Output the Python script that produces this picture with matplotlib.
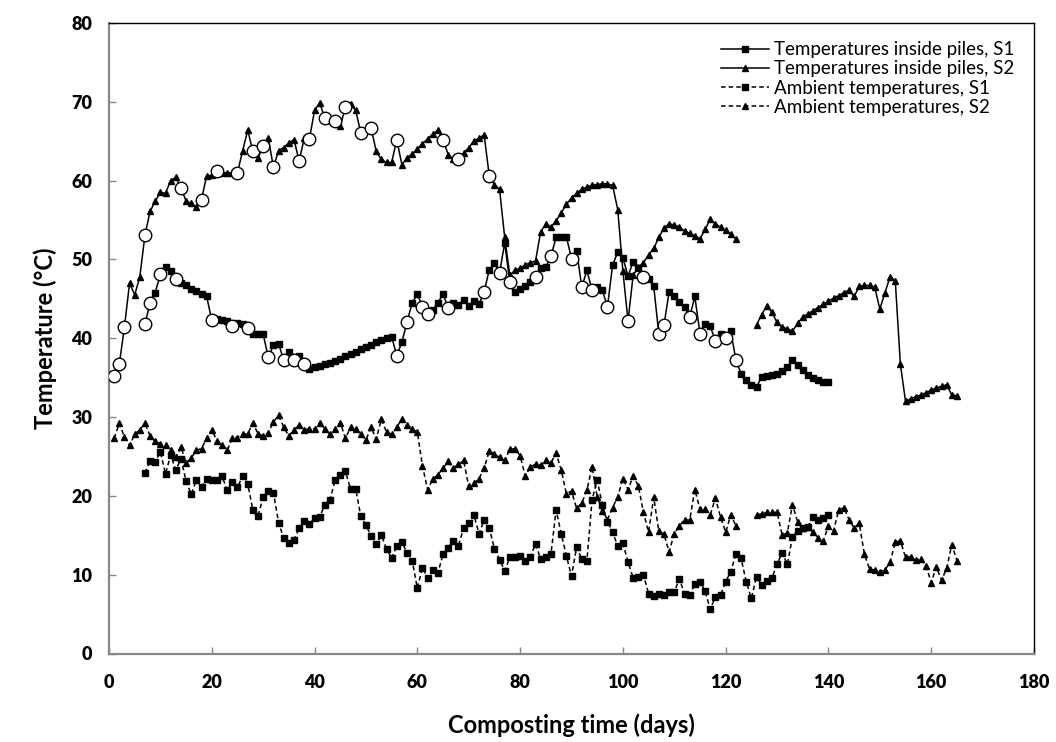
import matplotlib.pyplot as plt
import numpy as np

# pile temperatures, S1 (squares) - days 7..140
s1_days = list(range(7, 141))
s1_temp = [41.8, 44.5, 45.8, 48.1, 49.0, 48.5, 47.5, 47.0, 46.7, 46.3,
           46.0, 45.6, 45.3, 42.3, 42.5, 42.3, 42.2, 41.6, 41.9, 41.8,
           41.3, 40.5, 40.5, 40.5, 37.6, 39.1, 39.3, 37.2, 38.3, 37.2,
           37.7, 36.7, 36.1, 36.3, 36.5, 36.7, 36.9, 37.1, 37.4, 37.7,
           38.0, 38.3, 38.6, 38.9, 39.2, 39.5, 39.8, 40.0, 40.2, 37.8,
           39.5, 42.1, 44.5, 45.6, 44.0, 43.1, 43.6, 44.5, 45.6, 43.9,
           44.5, 44.2, 44.9, 44.1, 44.7, 44.3, 45.9, 48.7, 49.5, 48.3,
           52.1, 47.1, 45.9, 46.2, 46.6, 47.1, 47.8, 48.9, 49.0, 50.4,
           52.8, 52.9, 52.9, 50.1, 51.1, 46.5, 48.6, 46.1, 46.5, 46.1,
           44.0, 49.3, 50.9, 50.2, 47.9, 49.7, 48.9, 47.8, 47.5, 46.6,
           40.5, 41.7, 45.9, 45.3, 44.6, 44.0, 42.7, 45.3, 40.6, 41.8,
           41.5, 39.7, 40.6, 40.0, 40.9, 37.2, 35.5, 34.7, 34.1, 33.8,
           35.1, 35.2, 35.3, 35.5, 35.9, 36.3, 37.3, 36.6, 36.0, 35.4,
           35.0, 34.7, 34.5, 34.5]
s1_turns = [7, 8, 10, 13, 20, 24, 27, 31, 34, 36, 38, 56, 58, 61, 62, 66,
            73, 76, 78, 83, 86, 90, 92, 94, 97, 104, 107, 108, 113, 115,
            118, 120, 122]

# pile temperatures, S2 (triangles) - days 1..122, 126..165
s2_days = list(range(1, 123)) + list(range(126, 166))
s2_temp = [35.2, 36.7, 41.4, 47.0, 45.5, 47.8, 53.1, 56.1, 57.4, 58.5,
           58.4, 60.0, 60.4, 59.1, 57.4, 57.1, 56.6, 57.6, 60.6, 60.7,
           61.2, 61.0, 61.0, 61.0, 61.0, 63.8, 66.4, 63.7, 62.9, 64.4,
           65.4, 61.7, 63.8, 64.2, 64.8, 65.2, 62.5, 65.4, 65.3, 68.9,
           69.9, 67.9, 67.7, 67.6, 66.9, 69.3, 69.7, 68.9, 66.1, 66.4,
           66.7, 63.7, 62.7, 62.3, 62.3, 65.2, 62.0, 62.9, 63.4, 64.0,
           64.7, 65.3, 65.9, 66.4, 65.2, 63.3, 62.7, 62.8, 63.5, 64.2,
           65.0, 65.4, 65.8, 60.6, 59.5, 58.9, 52.8, 48.0, 48.6, 48.9,
           49.3, 49.6, 49.8, 53.5, 54.5, 54.1, 54.9, 55.9, 57.0, 57.8,
           58.4, 58.9, 59.2, 59.4, 59.5, 59.6, 59.6, 59.4, 56.3, 48.5,
           42.2, 48.0, 49.0, 49.6, 50.6, 51.4, 52.8, 54.0, 54.5, 54.4,
           54.1, 53.6, 53.3, 53.0, 52.6, 53.8, 55.1, 54.5, 54.1, 53.7,
           53.2, 52.6,
           41.7, 43.0, 44.1, 43.3, 42.0, 41.4, 41.2, 40.9, 41.9, 42.7,
           43.1, 43.5, 43.9, 44.3, 44.7, 45.1, 45.4, 45.8, 46.1, 45.3,
           46.6, 46.7, 46.7, 46.5, 43.7, 45.8, 47.8, 47.3, 36.7, 32.0,
           32.3, 32.6, 32.8, 33.1, 33.4, 33.7, 33.9, 34.1, 32.8, 32.7]
s2_turns = [1, 2, 3, 7, 14, 18, 21, 25, 28, 30, 32, 37, 39, 42, 44, 46, 49,
            51, 56, 65, 68, 74, 101]

# ambient temperatures, S1 - days 7..140
amb1_days = list(range(7, 141))
amb1_temp = [22.9, 24.4, 24.3, 25.6, 22.8, 25.2, 23.3, 24.7, 21.9, 20.2,
             22.0, 21.1, 22.2, 22.0, 22.0, 22.5, 20.7, 21.7, 21.1, 22.5,
             21.5, 18.2, 17.5, 19.8, 20.6, 20.4, 16.6, 14.6, 14.0, 14.4,
             15.9, 16.8, 16.4, 17.2, 17.3, 18.9, 19.5, 22.0, 22.6, 23.1,
             20.9, 20.9, 17.4, 16.3, 14.9, 13.9, 15.0, 13.3, 12.1, 13.6,
             14.1, 12.8, 11.8, 8.3, 10.9, 9.6, 10.6, 10.2, 12.6, 13.4,
             14.3, 13.7, 15.9, 16.5, 17.6, 15.2, 16.9, 15.9, 13.3, 11.9,
             10.5, 12.2, 12.2, 12.4, 11.8, 12.3, 13.9, 12.0, 12.2, 12.6,
             18.2, 15.2, 12.4, 9.8, 13.5, 12.0, 11.8, 19.5, 22.0, 18.9,
             16.7, 15.4, 13.6, 14.0, 11.6, 9.6, 9.7, 10.0, 7.6, 7.3,
             7.6, 7.4, 7.8, 7.8, 9.5, 7.5, 7.4, 8.8, 9.1, 7.9,
             5.6, 7.2, 7.4, 9.1, 10.4, 12.6, 12.1, 9.1, 7.0, 9.7,
             8.7, 9.2, 9.6, 11.3, 12.8, 11.3, 14.8, 15.6, 15.9, 16.1,
             17.3, 16.9, 17.2, 17.6]

# ambient temperatures, S2 - days 1..122, 126..165
amb2_days = list(range(1, 123)) + list(range(126, 166))
amb2_temp = [27.3, 29.2, 27.5, 26.4, 27.8, 28.4, 29.2, 27.6, 26.9, 26.6,
             26.5, 25.8, 24.9, 26.2, 24.2, 24.8, 25.8, 26.0, 27.3, 28.4,
             27.0, 26.5, 25.8, 27.3, 27.4, 27.8, 27.9, 29.2, 27.9, 27.6,
             28.0, 29.4, 30.2, 28.7, 27.6, 28.4, 29.0, 28.4, 28.5, 28.5,
             29.3, 28.5, 27.8, 28.5, 29.3, 27.3, 28.7, 28.5, 27.8, 27.1,
             28.7, 27.2, 29.7, 28.1, 27.8, 28.7, 29.8, 29.0, 28.5, 28.1,
             23.8, 20.8, 22.1, 22.7, 23.5, 24.4, 23.5, 24.0, 24.5, 21.2,
             21.6, 22.2, 23.5, 25.7, 25.3, 24.9, 24.5, 25.9, 26.0, 25.1,
             22.5, 23.7, 24.0, 23.9, 24.5, 24.2, 25.4, 23.3, 20.3, 20.6,
             18.4, 19.1, 20.7, 23.7, 19.9, 18.1, 17.0, 18.5, 19.9, 22.2,
             20.8, 22.5, 21.3, 17.9, 15.4, 19.8, 15.5, 15.1, 12.9, 15.2,
             16.2, 17.0, 16.9, 20.8, 18.3, 18.3, 17.6, 19.7, 17.3, 15.4,
             17.6, 16.2,
             17.6, 17.7, 17.9, 17.9, 17.9, 15.0, 15.3, 18.9, 16.7, 15.9,
             16.1, 15.4, 14.7, 14.3, 16.2, 15.6, 18.2, 18.5, 17.0, 15.9,
             16.5, 12.6, 10.7, 10.6, 10.4, 10.6, 11.6, 14.1, 14.3, 12.2,
             12.3, 11.9, 12.0, 11.1, 9.0, 11.0, 9.3, 10.8, 13.8, 11.8]


def split_runs(days, vals):
    # break the line where days are missing
    days = np.array(days)
    vals = np.array(vals)
    cuts = np.where(np.diff(days) > 1)[0] + 1
    return list(zip(np.split(days, cuts), np.split(vals, cuts)))


fig = plt.figure(figsize=(10.56, 7.42), dpi=100)
ax = fig.add_axes([109 / 1056, 1 - 653.5 / 742, (1034 - 109) / 1056, (653.5 - 23) / 742])

series = [
    (s1_days, s1_temp, 's', 4.2, '-', 'Temperatures inside piles, S1'),
    (s2_days, s2_temp, '^', 5.0, '-', 'Temperatures inside piles, S2'),
    (amb1_days, amb1_temp, 's', 4.2, '--', 'Ambient temperatures, S1'),
    (amb2_days, amb2_temp, '^', 5.0, '--', 'Ambient temperatures, S2'),
]
handles = []
for d, v, m, ms, ls, lab in series:
    for i, (dd, vv) in enumerate(split_runs(d, v)):
        h, = ax.plot(dd, vv, color='black', lw=1.1, ls=ls, marker=m, ms=ms,
                     mfc='black', mec='black', dashes=(3, 2) if ls == '--' else (None, None),
                     label=lab if i == 0 else None, zorder=3)
        if i == 0:
            handles.append(h)

# turning days marked with open circles
for d, v, turns in [(s1_days, s1_temp, s1_turns), (s2_days, s2_temp, s2_turns)]:
    lookup = dict(zip(d, v))
    ax.plot(turns, [lookup[t] for t in turns], ls='none', marker='o', ms=9,
            mfc='white', mec='black', mew=1.0, zorder=4)

ax.set_xlim(0, 180)
ax.set_ylim(0, 80)
ax.set_xticks(range(0, 181, 20))
ax.set_yticks(range(0, 81, 10))
ax.tick_params(direction='in', length=5, width=1, color='#888888')
ax.tick_params(axis='x', pad=15)
ax.tick_params(axis='y', pad=12)
for lbl in ax.get_xticklabels() + ax.get_yticklabels():
    lbl.set_fontweight('heavy')
    lbl.set_fontsize(13)
    lbl.set_family('Lato')

for side in ['left', 'bottom']:
    ax.spines[side].set_color('#888888')
    ax.spines[side].set_linewidth(1.6)
for side in ['top', 'right']:
    ax.spines[side].set_color('black')
    ax.spines[side].set_linewidth(1.0)

ax.set_xlabel('Composting time (days)', fontsize=17, fontweight='bold', family='Lato', labelpad=16)
ax.set_ylabel('Temperature (°C)', fontsize=17, fontweight='bold', family='Lato', labelpad=10)

ax.legend(handles=handles, loc='upper right', bbox_to_anchor=(0.995, 0.995), frameon=False,
          prop={'family': 'Lato', 'size': 13.5}, handlelength=2.6, handletextpad=0.25,
          labelspacing=0.12, numpoints=1, borderaxespad=0.4)

fig.savefig('out.png', dpi=100)
